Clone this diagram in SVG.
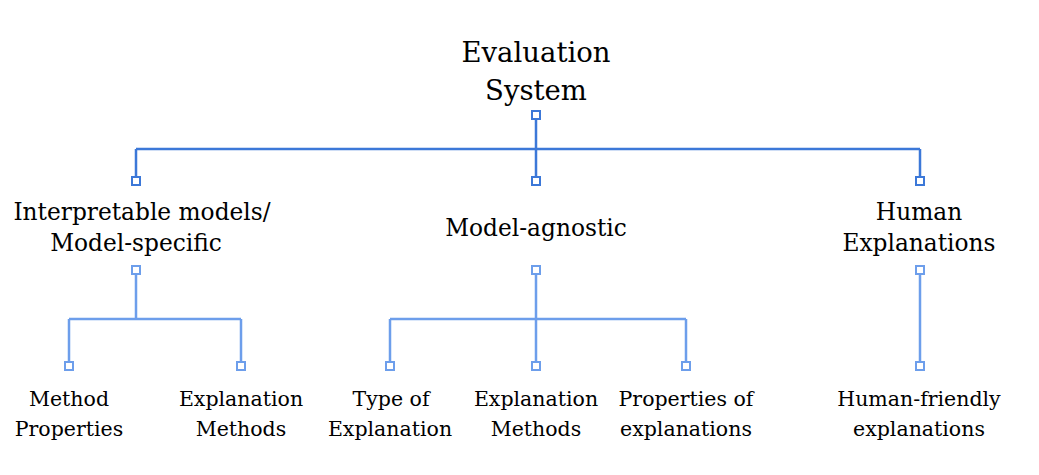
<svg xmlns="http://www.w3.org/2000/svg" width="1039" height="475" viewBox="0 0 1039 475">
<style>
text{font-family:'DejaVu Serif',serif;fill:#000;text-anchor:middle}
.t0{font-size:27.5px}
.t1{font-size:23.3px}
.t2{font-size:20.5px}
.c1{stroke:#3c78d8;stroke-width:2.5;fill:none}
.c2{stroke:#6d9eeb;stroke-width:2.5;fill:none}
.s1{stroke:#3c78d8;stroke-width:2;fill:#fff}
.s2{stroke:#6d9eeb;stroke-width:2;fill:#fff}
</style>
<rect width="1039" height="475" fill="#fff"/>
<g id="connectors">
<path class="c1" d="M536 119V181M136 149H920M136 149V181M920 149V181"/>
<path class="c2" d="M136 274V319M69 319H241M69 319V366M241 319V366M536 274V366M390 319H686M390 319V366M686 319V366M920 274V366"/>
<rect class="s1" x="532" y="111" width="8" height="8"/>
<rect class="s1" x="132" y="177" width="8" height="8"/>
<rect class="s1" x="532" y="177" width="8" height="8"/>
<rect class="s1" x="916" y="177" width="8" height="8"/>
<rect class="s2" x="132" y="266" width="8" height="8"/>
<rect class="s2" x="532" y="266" width="8" height="8"/>
<rect class="s2" x="916" y="266" width="8" height="8"/>
<rect class="s2" x="65" y="362" width="8" height="8"/>
<rect class="s2" x="237" y="362" width="8" height="8"/>
<rect class="s2" x="386" y="362" width="8" height="8"/>
<rect class="s2" x="532" y="362" width="8" height="8"/>
<rect class="s2" x="682" y="362" width="8" height="8"/>
<rect class="s2" x="916" y="362" width="8" height="8"/>
</g>
<g id="root"><text class="t0" x="536" y="62">Evaluation</text><text class="t0" x="536" y="100">System</text></g>
<g id="interpretable"><text class="t1" x="142" y="220">Interpretable models/</text><text class="t1" x="136" y="251">Model-specific</text></g>
<g id="agnostic"><text class="t1" x="536" y="236">Model-agnostic</text></g>
<g id="human"><text class="t1" x="919" y="220">Human</text><text class="t1" x="919" y="251">Explanations</text></g>
<g id="method-properties"><text class="t2" x="69" y="406">Method</text><text class="t2" x="69" y="436">Properties</text></g>
<g id="explanation-methods-1"><text class="t2" x="241" y="406">Explanation</text><text class="t2" x="241" y="436">Methods</text></g>
<g id="type-of-explanation"><text class="t2" x="391" y="406">Type of</text><text class="t2" x="390" y="436">Explanation</text></g>
<g id="explanation-methods-2"><text class="t2" x="536" y="406">Explanation</text><text class="t2" x="536" y="436">Methods</text></g>
<g id="properties-of-explanations"><text class="t2" x="686" y="406">Properties of</text><text class="t2" x="686" y="436">explanations</text></g>
<g id="human-friendly"><text class="t2" x="919" y="406">Human-friendly</text><text class="t2" x="919" y="436">explanations</text></g>
</svg>
